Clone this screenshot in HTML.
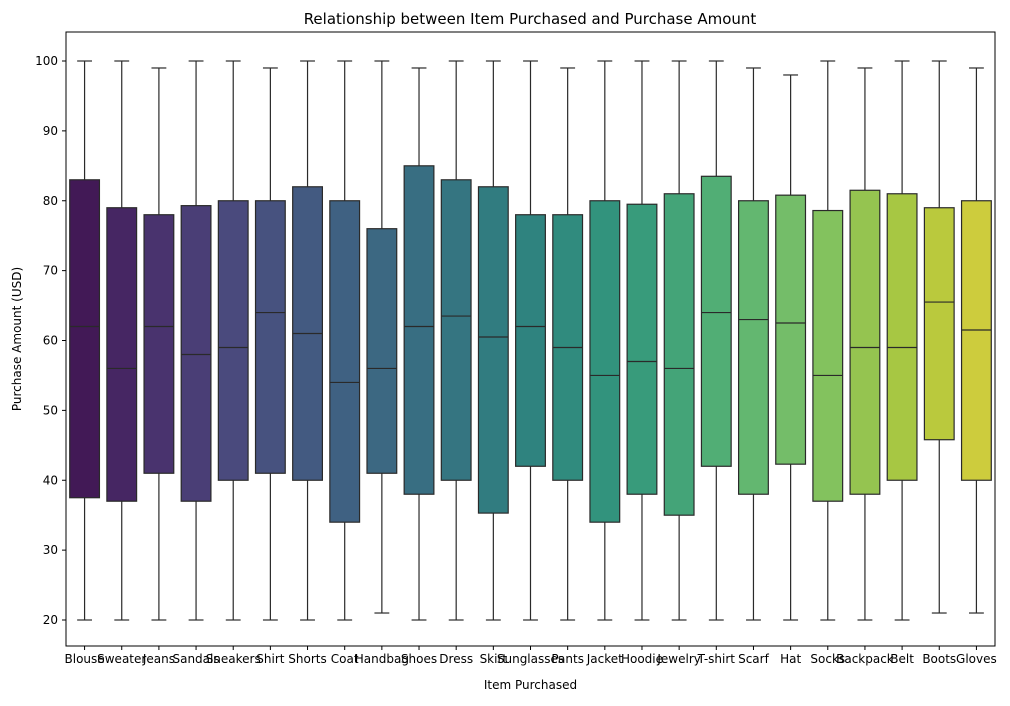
<!DOCTYPE html>
<html><head><meta charset="utf-8"><style>
body{margin:0;background:#fff;font-family:"Liberation Sans","DejaVu Sans",sans-serif}
svg text{font-family:"DejaVu Sans","Liberation Sans",sans-serif;fill:#000}
</style></head><body>
<svg id="chart" width="1010" height="701"></svg>
<script>
const categories=["Blouse","Sweater","Jeans","Sandals","Sneakers","Shirt","Shorts","Coat","Handbag","Shoes","Dress","Skirt","Sunglasses","Pants","Jacket","Hoodie","Jewelry","T-shirt","Scarf","Hat","Socks","Backpack","Belt","Boots","Gloves"];
const whiskerLow=[20,20,20,20,20,20,20,20,21,20,20,20,20,20,20,20,20,20,20,20,20,20,20,21,21];
const q1=[37.5,37,41,37,40,41,40,34,41,38,40,35.3,42,40,34,38,35,42,38,42.3,37,38,40,45.8,40];
const medians=[62,56,62,58,59,64,61,54,56,62,63.5,60.5,62,59,55,57,56,64,63,62.5,55,59,59,65.5,61.5];
const q3=[83,79,78,79.3,80,80,82,80,76,85,83,82,78,78,80,79.5,81,83.5,80,80.8,78.6,81.5,81,79,80];
const whiskerHigh=[100,100,99,100,100,99,100,100,100,99,100,100,100,99,100,100,100,100,99,98,100,99,100,100,99];
const yTicks=[20,30,40,50,60,70,80,90,100];
const NS="http://www.w3.org/2000/svg";
const svg=document.getElementById('chart');
const L=66,R=995,T=32,B=646;
const y=v=>620-(v-20)*(559/80);
const step=(R-L)/categories.length;
const x=i=>L+step*(i+0.5);
function mk(tag,attrs,parent){const e=document.createElementNS(NS,tag);for(const k in attrs)e.setAttribute(k,attrs[k]);(parent||svg).appendChild(e);return e;}
const vir=[[68,1,84],[72,36,117],[65,68,135],[53,95,141],[42,120,142],[33,145,140],[34,168,132],[68,191,112],[122,209,81],[189,223,38],[253,231,37]];
function viridis(t){const p=t*10,i=Math.min(9,Math.floor(p)),f=p-i;return vir[i].map((c,k)=>c+(vir[i+1][k]-c)*f);}
function desat([r,g,b],s){r/=255;g/=255;b/=255;const mx=Math.max(r,g,b),mn=Math.min(r,g,b);let h=0,l=(mx+mn)/2,sa=0;const d=mx-mn;
if(d>0){sa=l>0.5?d/(2-mx-mn):d/(mx+mn);if(mx===r)h=((g-b)/d+(g<b?6:0));else if(mx===g)h=(b-r)/d+2;else h=(r-g)/d+4;h/=6;}
sa*=s;const q=l<0.5?l*(1+sa):l+sa-l*sa,pp=2*l-q;const hu=t=>{if(t<0)t+=1;if(t>1)t-=1;if(t<1/6)return pp+(q-pp)*6*t;if(t<1/2)return q;if(t<2/3)return pp+(q-pp)*(2/3-t)*6;return pp;};
return `rgb(${Math.round(hu(h+1/3)*255)},${Math.round(hu(h)*255)},${Math.round(hu(h-1/3)*255)})`;}
const t=mk('text',{x:530,y:24,'text-anchor':'middle','font-size':15});

t.textContent="Relationship between Item Purchased and Purchase Amount";
yTicks.forEach(v=>{const g=mk('g',{});

mk('line',{x1:L-4,x2:L,y1:y(v),y2:y(v),stroke:'#000'},g);
const tx=mk('text',{x:L-8,y:y(v)+4,'text-anchor':'end','font-size':12},g);tx.textContent=v;});
const boxW=step*0.8;
categories.forEach((c,i)=>{const g=mk('g',{});

const col=desat(viridis((i+1)/(categories.length+1)),0.75),cx=x(i),st='#2a2a2a';
mk('line',{x1:cx,x2:cx,y1:y(whiskerHigh[i]),y2:y(q3[i]),stroke:st,'stroke-width':1.2},g);
mk('line',{x1:cx,x2:cx,y1:y(q1[i]),y2:y(whiskerLow[i]),stroke:st,'stroke-width':1.2},g);
[whiskerHigh[i],whiskerLow[i]].forEach(v=>mk('line',{x1:cx-boxW/4,x2:cx+boxW/4,y1:y(v),y2:y(v),stroke:st,'stroke-width':1.2},g));
mk('rect',{x:cx-boxW/2,y:y(q3[i]),width:boxW,height:y(q1[i])-y(q3[i]),fill:col,stroke:st,'stroke-width':1.2},g);
mk('line',{x1:cx-boxW/2,x2:cx+boxW/2,y1:y(medians[i]),y2:y(medians[i]),stroke:st,'stroke-width':1.2},g);
mk('line',{x1:cx,x2:cx,y1:B,y2:B+4,stroke:'#000'},g);
const tx=mk('text',{x:cx,y:B+17,'text-anchor':'middle','font-size':12},g);tx.textContent=c;
});
const fr=mk('rect',{x:L,y:T,width:R-L,height:B-T,fill:'none',stroke:'#000','stroke-width':1});

const xl=mk('text',{x:(L+R)/2,y:689,'text-anchor':'middle','font-size':12});
xl.textContent="Item Purchased";
const yl=mk('text',{x:0,y:0,'text-anchor':'middle','font-size':12,transform:`translate(21,${(T+B)/2}) rotate(-90)`});
yl.textContent="Purchase Amount (USD)";
</script>
</body></html>
